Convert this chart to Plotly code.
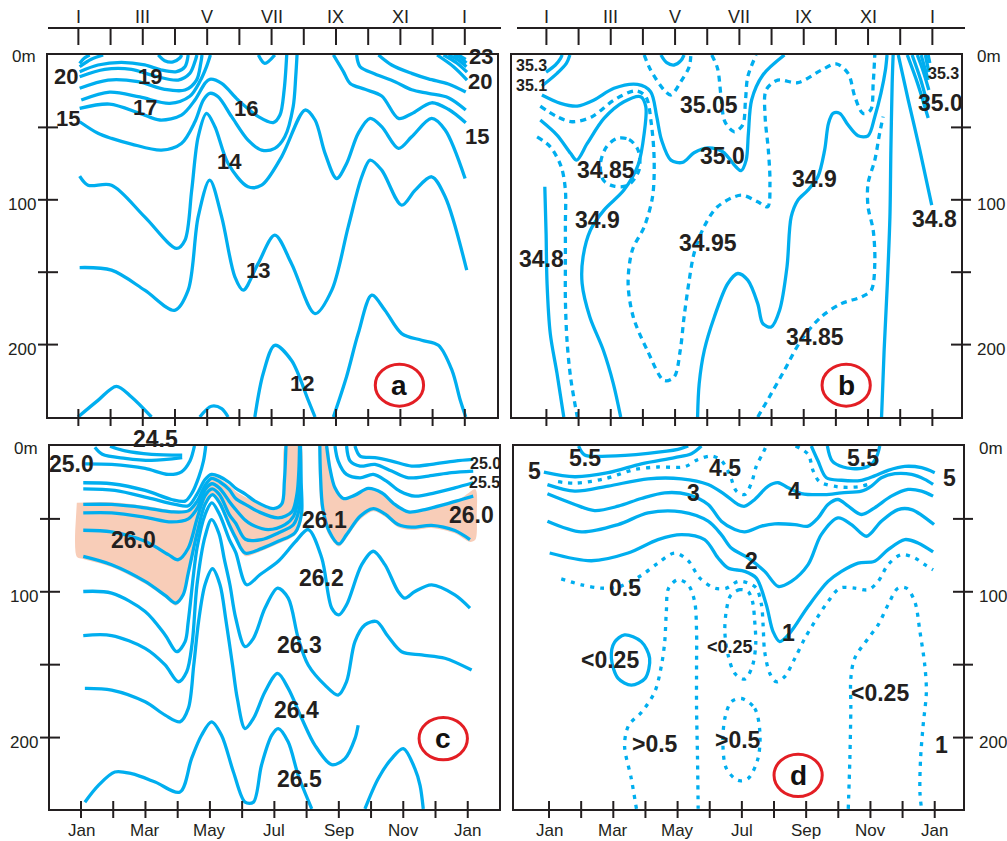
import plotly.graph_objects as go

W, H = 1007, 841
CYAN = "#00AEEF"
INK = "#231F20"
RED = "#E31E24"
PEACH = "#F8CDB8"
SANS = "Liberation Sans, Arial, sans-serif"

# ---------------- (a) temperature isolines: (month, depth m) ----------------
TEMP_LINES = [
    ([1.04, 1.18, 1.35], [5.8, 2.3, 0]),
    ([1.04, 1.40, 1.77], [8.1, 3.0, 0]),
    ([1.04, 1.61, 2.34, 3.06, 3.58, 4.05, 4.31, 4.41], [11.5, 6.9, 5.1, 6.9, 10.4, 11.5, 8.1, 0]),
    ([3.48, 3.68, 3.94, 4.15, 4.21], [0, 3.9, 4.8, 2.1, 0]),
    ([1.04, 1.82, 2.65, 3.37, 4.10, 4.46, 4.62, 4.68], [15, 9.9, 9.9, 14.5, 17.3, 12.7, 4.6, 0]),
    ([1.04, 1.92, 2.85, 3.68, 4.31, 4.67, 4.80, 4.84], [23, 17.3, 18.4, 23.7, 24.2, 17.3, 5.8, 0]),
    ([1.09, 1.97, 2.91, 3.84, 4.46, 4.78, 4.98, 5.10], [31.1, 25.6, 29.0, 33.4, 28.5, 18, 8, 0]),
    ([1.04, 1.97, 2.91, 3.53, 4.20, 4.62, 4.93, 5.08, 5.45, 5.96, 6.59, 7.05, 7.26, 7.39, 7.47],
     [36.9, 33.9, 40.3, 44.9, 41.5, 31.1, 19.6, 16.8, 19.6, 31.1, 42.6, 46.7, 41.5, 24.2, 0]),
    ([1.04, 1.61, 2.03, 2.65, 3.58, 4.20, 4.62, 4.88, 5.08, 5.34, 5.76, 6.27, 6.69, 7.10, 7.41, 7.67, 7.75, 7.79],
     [46.1, 54.1, 57.6, 61.5, 65.7, 61.1, 46.1, 31.1, 26.5, 28.8, 42.6, 58.8, 65.7, 64.5, 56.5, 35.7, 15.0, 0]),
    ([1.04, 1.30, 2.03, 3.06, 4.05, 4.31, 4.52, 4.72, 4.98, 5.24, 5.65, 6.27, 6.69, 7.31, 8.04, 8.35, 8.66,
      9.02, 9.33, 9.69, 10.06, 10.42, 10.94, 11.35, 11.97, 12.39, 13.01],
     [83.6, 89.9, 89.9, 111.8, 133.6, 127.9, 93.3, 56.5, 40.3, 49.5, 74.9, 91.0, 89.9, 70.3, 38.0, 44.9, 67.9,
      85.3, 74.9, 54.1, 43.8, 49.5, 64.5, 56.5, 43.8, 51.8, 85.3]),
    ([1.04, 2.03, 3.06, 3.99, 4.41, 4.72, 5.08, 5.45, 5.86, 6.12, 6.58, 7.10, 7.62, 8.35, 8.87, 9.38, 9.80,
      10.06, 10.42, 11.04, 11.46, 11.97, 12.39, 13.06],
     [146.8, 148.6, 162.4, 176.3, 162.4, 111.8, 86.4, 111.8, 153.2, 162.4, 144.1, 124.4, 144.1, 178.6, 162.4,
      118.7, 84.1, 72.6, 79.5, 103.7, 93.3, 84.1, 97.9, 148.6]),
    ([6.48, 6.74, 7.10, 7.62, 8.14, 8.35], [250, 220, 200.5, 211, 238.5, 250]),
    ([8.92, 9.33, 9.69, 10.11, 10.52, 11.04, 11.66, 12.18, 12.60, 12.86, 13.03],
     [250, 222, 192.4, 165.9, 176.3, 192.4, 197, 200.5, 217.7, 238.5, 250]),
    ([0.99, 1.61, 2.18, 2.65, 3.27], [250, 238.5, 228.8, 236.2, 250]),
    ([4.77, 5.13, 5.45, 5.65], [250, 242.6, 244.2, 250]),
    ([6.59, 6.79, 7.10], [0, 5.8, 0]),
    ([8.92, 9.23, 9.44, 9.90, 10.42, 10.94, 11.35, 11.97, 12.49, 13.03],
     [0, 11.5, 19.6, 23.7, 28.3, 43.8, 40.5, 33.0, 37.5, 46.8]),
    ([9.64, 9.75, 10.21, 10.83, 11.35, 11.87, 12.49, 13.03], [0, 8.1, 13.1, 18.4, 24.0, 26.5, 29.5, 38.0]),
    ([10.32, 10.73, 11.35, 11.87, 12.49, 13.03], [0, 6.9, 12.7, 16.5, 20.0, 25.6]),
    ([12.14, 12.65, 13.07], [0, 8.1, 17.3]),
    ([12.34, 12.75, 13.07], [0, 5.5, 11.8]),
    ([12.49, 12.80, 13.05], [0, 3.5, 8.1]),
    ([12.65, 12.88, 13.05], [0, 2.3, 5.5]),
    ([12.80, 13.03], [0, 3.0]),
]
TEMP_LABELS = [("20", 0.63, 14.5), ("19", 3.22, 15), ("17", 3.06, 36), ("15", 0.68, 43.8),
               ("16", 6.22, 36.9), ("14", 5.70, 73.7), ("13", 6.59, 148.6), ("12", 7.93, 227),
               ("23", 13.5, 1.0), ("20", 13.48, 18.4), ("15", 13.37, 56.5)]

# ---------------- (b) salinity isolines ----------------
SAL_SOLID = [
    ([0.99, 1.28, 1.44, 1.49], [11.8, 6.9, 2.3, 0]),
    ([0.86, 1.33, 1.62, 1.73], [21.4, 12.7, 5.8, 0]),
    ([0.86, 1.44, 1.96, 2.48, 3.10, 3.83, 4.24, 4.43, 4.58, 4.87, 5.23, 5.59, 6.01, 6.48, 6.89, 7.05, 7.21,
      7.28, 7.38, 7.73, 8.40],
     [27.6, 33.4, 35.3, 31.1, 23.0, 20.3, 25.3, 42.6, 58.8, 72.6, 74.2, 67.5, 64.1, 66.8, 77.2, 79.9, 72.6,
      54.1, 31.1, 13.8, 0]),
    ([0.81, 1.33, 1.75, 1.94, 2.27, 2.79, 3.41, 3.93, 4.09, 4.04, 3.85, 3.41, 2.79, 2.37, 2.14, 2.11, 2.35,
      2.77, 3.08, 3.31],
     [44.9, 55.3, 67.9, 72.6, 61.1, 43.8, 32.3, 28.8, 35.7, 54.1, 76.0, 93.3, 107.1, 120.9, 139.4, 157.8,
      180.9, 203.9, 226.9, 250]),
    ([0.95, 0.99, 1.02, 1.12, 1.33, 1.54], [91, 123.3, 157.8, 192.4, 220, 250]),
    ([5.70, 5.75, 5.91, 6.22, 6.64, 6.95, 7.26, 7.57, 7.73, 7.99, 8.25, 8.48, 8.61, 8.82, 9.13, 9.44, 9.65,
      9.77, 9.91, 10.12, 10.38, 10.69, 11.00, 11.21, 11.40, 11.54, 11.59],
     [250, 226.9, 203.9, 180.9, 157.8, 150.9, 155.5, 171.7, 185.5, 187.8, 176.3, 146.3, 111.8, 100.2, 93.3,
      84.1, 65.7, 47.2, 40.3, 40.3, 48.4, 55.8, 55.8, 42.6, 26.5, 10.4, 0]),
    ([11.42, 11.50, 11.60, 11.68, 11.71, 11.75, 11.78], [250, 203.9, 157.8, 111.8, 65.7, 19.6, 0]),
    ([4.56, 4.74, 4.97, 5.18, 5.28], [0, 5.3, 6.9, 3.9, 0]),
    ([11.94, 12.25, 12.61, 12.98], [0, 31.1, 65.7, 103.7]),
    ([12.22, 12.54, 12.87], [0, 19.6, 43.5]),
    ([12.37, 12.64, 12.87], [0, 17.3, 35.9]),
    ([12.53, 12.72, 12.89], [0, 11.5, 24.2]),
    ([12.65, 12.87], [0, 17.3]),
    ([12.78, 12.89], [0, 11.8]),
    ([12.87, 12.92], [0, 5.5]),
]
SAL_DASHED = [
    ([0.81, 1.33, 1.80, 2.42, 3.10, 3.78, 4.09, 4.26, 4.35, 4.30, 4.04, 3.67, 3.54, 3.70, 4.14, 4.66, 4.97,
      5.16, 5.28, 5.44, 5.59, 5.90, 6.32, 7.05, 7.57, 7.88, 7.95, 7.90, 7.80, 7.83, 8.19, 8.82, 9.55, 10.01,
      10.38, 10.59, 10.84, 11.08, 11.16, 11.21],
     [35.3, 42.6, 46.1, 42.6, 31.1, 24.7, 28.8, 47.2, 72.6, 97.9, 118.7, 134.8, 157.8, 180.9, 204.1, 224.8,
      222.4, 204.1, 180.9, 155.5, 137.1, 118.7, 104.8, 96.8, 101.4, 104.8, 88.7, 65.7, 42.6, 24.2, 17.3,
      19.1, 10.4, 6.2, 12.7, 28.8, 40.3, 38, 19.6, 0]),
    ([3.20, 3.57, 3.85, 3.88, 3.54, 3.10, 2.77, 2.68, 2.87, 3.20],
     [57.6, 58.3, 65.7, 79.5, 89.9, 90.6, 86.4, 74.9, 63.4, 57.6]),
    ([0.71, 1.12, 1.46, 1.59, 1.59, 1.59, 1.59, 1.64, 1.75, 1.96],
     [56.5, 63.4, 77.2, 93.3, 116.4, 143.8, 169.4, 197, 222.4, 250]),
    ([7.57, 7.99, 8.40, 8.92, 9.54, 10.17, 10.79, 11.10, 11.21, 11.16, 11.00, 11.00, 11.21, 11.36, 11.47],
     [250, 233.9, 217.7, 197, 180.9, 171.7, 167.1, 162.4, 144.0, 121, 104.8, 88.7, 72.6, 54.1, 42.6]),
    ([4.04, 4.24, 4.66, 4.87, 5.18, 5.44, 5.49], [0, 10.4, 24.2, 27.6, 18.4, 8.1, 0]),
    ([6.14, 6.32, 6.43, 6.55, 6.84, 7.10, 7.19, 7.26, 7.52], [0, 9.2, 28.8, 46.1, 53, 48.4, 31.1, 15, 0]),
]
SAL_LABELS = [("35.05", 6.06, 34.6), ("34.85", 2.84, 79.5), ("35.0", 6.48, 69.8), ("34.9", 9.34, 85.3),
              ("34.9", 2.58, 114), ("34.95", 6.01, 130), ("34.8", 0.86, 141), ("34.85", 9.34, 194.7),
              ("34.8", 13.08, 113), ("35.0", 13.24, 33.4)]
SAL_SMALL_LABELS = [("35.3", 0.55, 7.2), ("35.1", 0.53, 21.2), ("35.3", 13.36, 12.9)]

# ---------------- (c) density isolines ----------------
DENS_LINES = [
    ([1.43, 1.66, 2.37, 3.19, 4.14], [0.9, 5.7, 8.5, 9.9, 8.0]),
    ([1.90, 2.37, 3.19, 4.14], [0.2, 3.4, 5.7, 6.2]),
    ([1.10, 1.95, 2.99, 3.71, 4.12, 4.38, 4.52], [12.2, 12.6, 15.4, 19.5, 17.7, 10.3, 0]),
    ([1.07, 1.95, 2.99, 3.81, 4.23, 4.45, 4.66, 4.80, 4.87], [25.2, 25.9, 30.5, 36.7, 37.8, 32, 21, 10.3, 0]),
    ([1.07, 2.05, 3.09, 3.92, 4.33, 4.60, 4.85, 5.05, 5.30, 5.60, 5.80, 6.10, 6.40, 6.97, 7.23, 7.31, 7.36],
     [29.4, 30.5, 35.6, 40.1, 41, 33, 23, 19.5, 21, 25, 29, 33, 37.8, 42.9, 39.7, 24.1, 0]),
    ([1.07, 1.95, 2.99, 3.81, 4.33, 4.60, 4.85, 5.05, 5.30, 5.60, 5.80, 6.10, 6.50, 7.12, 7.54, 7.70, 7.76, 7.78],
     [40.1, 40.1, 42.4, 45.2, 44.5, 38, 27, 22.2, 24.5, 30, 36, 40, 45, 49.3, 45.2, 33, 17, 0]),
    ([1.07, 1.95, 2.99, 3.81, 4.33, 4.60, 4.85, 5.06, 5.30, 5.60, 5.80, 6.10, 6.29, 6.81, 7.33, 7.60, 7.74,
      7.79, 7.79],
     [45.9, 45.9, 48.9, 52.1, 50, 43, 30, 25.9, 29, 38, 43.6, 51, 53.9, 57.3, 53.9, 48, 36, 17, 0]),
    ([1.07, 1.95, 2.99, 3.71, 4.02, 4.33, 4.60, 4.85, 5.07, 5.30, 5.60, 5.80, 6.10, 6.60, 7.12, 7.59, 7.78,
      7.81, 7.80],
     [57.8, 58.9, 65.4, 74.5, 78.0, 70, 50, 34, 29.4, 33.5, 47, 53, 64, 64.2, 59.6, 54, 42, 20, 0]),
    ([1.07, 1.95, 2.99, 3.61, 3.94, 4.17, 4.33, 4.60, 4.85, 5.08, 5.30, 5.60, 5.80, 6.09, 6.60, 7.12, 7.64,
      7.84, 7.83, 7.81],
     [75.7, 81.4, 92.9, 102.5, 107.8, 102.1, 87, 60, 40, 33.3, 39, 54, 63, 73.4, 70.4, 65.4, 59.5, 47,
      24, 0]),
    ([1.07, 1.95, 2.99, 3.61, 3.97, 4.23, 4.33, 4.60, 4.85, 5.06, 5.30, 5.60, 5.80, 6.14, 6.55, 7.12, 7.64,
      8.05, 8.47, 8.78, 9.00, 9.24, 9.71, 10.07, 10.43, 10.84, 11.05, 11.36, 11.88, 12.60, 13.07],
     [99.8, 100.9, 113.5, 129.6, 141.1, 134.2, 120, 70, 47, 39, 47, 64, 73, 95.2, 88.3, 79.1, 66, 57.3,
      76.8, 111.2, 115.8, 108.9, 81.4, 72.2, 81.4, 99.8, 104.4, 99.8, 95.2, 102.1, 111.2]),
    ([1.07, 1.95, 2.99, 3.61, 4.02, 4.28, 4.45, 4.60, 4.85, 5.05, 5.28, 5.45, 5.62, 5.80, 6.09, 6.35, 6.71,
      7.10, 7.43, 7.74, 8.05, 8.57, 8.98, 9.24, 9.50, 9.81, 10.17, 10.53, 10.95, 11.57, 12.29, 13.12],
     [130.0, 130.0, 138.8, 150.2, 161.7, 154.8, 135, 95, 62, 50.5, 60, 78, 95.2, 118, 137.6, 131.9, 111.2,
      97.5, 104.4, 131.9, 150.2, 164.0, 170.9, 161.7, 134.2, 122.7, 120.4, 130.7, 141.1, 143.3, 145.6, 153.7]),
    ([1.12, 1.95, 2.99, 3.61, 4.07, 4.33, 4.50, 4.65, 4.85, 5.08, 5.31, 5.50, 5.70, 5.85, 6.09, 6.35, 6.71,
      7.10, 7.43, 7.85, 8.26, 8.78, 9.19, 9.50, 9.60],
     [166.3, 167.4, 175.5, 184.6, 189.2, 180, 150, 120, 95, 84.2, 95, 120, 150, 173.2, 193.8, 186.9, 168.6,
      156.0, 166.3, 186.9, 205.3, 218.6, 214.4, 200.7, 191.5]),
    ([1.12, 1.54, 2.05, 2.57, 3.30, 4.07, 4.43, 4.74, 5.05, 5.36, 5.73, 6.09, 6.35, 6.60, 6.92, 7.12, 7.43,
      7.74, 8.16],
     [244.3, 232.8, 223.6, 224.8, 230.5, 237.4, 214.4, 198.4, 189.2, 198.4, 223.6, 244.3, 244.3, 219.0,
      198.4, 193.8, 203.0, 225.9, 248.9]),
    ([9.81, 10.22, 10.64, 11.00, 11.36, 11.52, 11.62], [248.9, 228.2, 214.4, 207.6, 221.3, 232.8, 248.9]),
    ([8.41, 8.43, 8.50, 8.70, 9.00, 9.24, 9.66, 10.07, 10.43, 10.84, 11.26, 11.88, 12.60, 13.07],
     [0, 19.5, 42.4, 58.5, 67.2, 60.8, 48.2, 42.9, 46.6, 53.9, 55.7, 54.4, 58.0, 64.2]),
    ([8.62, 8.72, 8.88, 9.14, 9.50, 9.91, 10.33, 10.74, 11.16, 11.67, 12.29, 12.81, 13.17],
     [0, 14.9, 28.7, 36.0, 33.7, 29.1, 32.1, 40.1, 45.2, 43.6, 40.1, 36.7, 34.4]),
    ([8.88, 8.98, 9.24, 9.66, 10.07, 10.48, 10.90, 11.36, 11.98, 12.60, 13.17],
     [0, 10.3, 19.5, 21.8, 19.5, 24.1, 31.0, 34.4, 32.1, 28.7, 25.2]),
    ([9.24, 9.35, 9.66, 10.12, 10.64, 11.16, 11.78, 12.50, 13.17], [0, 10.3, 13.8, 12.6, 17.2, 21.8, 20.6, 18.3, 17.2]),
    ([9.50, 9.66, 10.12, 10.64, 11.26, 11.88, 12.60, 13.17], [0, 6.9, 8.0, 10.3, 13.8, 12.6, 10.3, 9.2]),
]
DENS_BANDS = [
    ([0.87, 1.95, 2.99, 3.81, 4.33, 4.60, 4.85, 5.05, 5.30, 5.60, 5.80, 6.10, 6.40, 6.97, 7.22, 7.30, 7.33,
      7.82, 7.85, 7.87, 7.65, 7.12, 6.60, 6.09, 5.80, 5.60, 5.30, 5.08, 4.85, 4.60, 4.33, 4.17, 3.94,
      3.61, 2.99, 1.95, 1.07, 0.87, 0.82],
     [39, 38.5, 41, 44, 43.5, 36.5, 25.5, 20.5, 22.5, 27, 31, 35, 38.5, 44, 40, 24, 0,
      0, 24, 47, 61, 67, 72, 75.5, 64, 55, 40, 34.5, 41, 61, 88, 103, 109.5,
      104, 94.5, 83, 77.5, 76, 58]),
    ([8.38, 8.65, 8.76, 8.90, 9.14, 9.50, 9.91, 10.33, 10.74, 11.16, 11.67, 12.29, 12.81, 13.24, 13.28,
      13.24, 13.07, 12.60, 11.88, 11.26, 10.84, 10.43, 10.07, 9.66, 9.24, 9.00, 8.67, 8.45, 8.38],
     [0, 0, 14.9, 28.7, 36.0, 33.7, 29.1, 32.1, 39.7, 44.7, 42.9, 39.2, 35.6, 29.8, 47.0,
      64.2, 65.8, 59.9, 56.2, 57.6, 55.7, 48.4, 44.7, 50.5, 63.1, 69.0, 60.3, 43.6, 19.5]),
]
DENS_LABELS = [("25.0", 0.71, 12.6), ("26.0", 2.62, 64.2), ("26.1", 8.57, 50.5), ("26.2", 8.47, 90.6),
               ("26.3", 7.79, 136.5), ("26.4", 7.69, 181.2), ("26.5", 7.79, 228.2), ("26.0", 13.12, 47.0)]
DENS_SMALL_LABELS = [("25.0", 13.55, 12.0), ("25.5", 13.52, 25.0)]

# ---------------- (d) oxygen isolines ----------------
OXY_SOLID = [
    ([1.92, 2.11, 2.84, 4.08, 5.01, 5.33], [0, 6.2, 6.9, 5.0, 2.3, 0]),
    ([0.84, 1.80, 2.84, 3.87, 4.91, 5.43, 5.74], [17.9, 21.1, 18.3, 12.2, 8.0, 5.3, 0]),
    ([0.95, 1.80, 2.84, 4.08, 5.12, 5.95, 6.47, 6.88, 7.09, 7.40, 7.82, 8.13, 8.44, 8.85, 9.58, 10.10,
      10.72, 11.03, 11.34, 11.76, 12.28, 12.69, 12.95],
     [26.5, 31, 27.5, 22.5, 22.5, 26.4, 33.3, 40.1, 41.3, 36.7, 27.5, 25.2, 28.7, 32.6, 33.3, 32.1,
      31.0, 27.5, 21.8, 19.0, 19.5, 22.9, 26.4]),
    ([0.95, 1.80, 2.42, 3.15, 3.87, 4.60, 5.33, 5.95, 6.36, 6.78, 7.09, 7.61, 8.02, 8.65, 9.06, 9.37, 9.68,
      9.99, 10.31, 10.72, 11.13, 11.65, 12.17, 12.59, 12.95],
     [32.8, 40.1, 44.3, 41.3, 36.0, 32.1, 33.3, 40.1, 51.6, 57.3, 58.9, 55.0, 53.4, 53.9, 55.0, 49.3, 40.1,
      36.7, 41.3, 47.0, 42.4, 34.4, 29.8, 30.9, 34.4]),
    ([0.95, 2.01, 3.15, 4.08, 5.12, 5.95, 6.36, 6.67, 7.19, 7.71, 8.13, 8.54, 9.06, 9.47, 9.99, 10.41, 10.88,
      11.34, 11.86, 12.28, 12.98],
     [51.6, 58.9, 53.9, 45.9, 45.2, 51.6, 60.8, 70.0, 76.8, 86.0, 96.3, 92.9, 81.4, 60.8, 49.3, 53.9, 61.9,
      51.6, 43.6, 43.6, 53.9]),
    ([1.02, 2.32, 3.46, 4.39, 5.12, 5.84, 6.26, 6.57, 7.09, 7.45, 7.76, 7.97, 8.18, 8.49, 9.06, 9.68, 10.10,
      10.62, 11.13, 11.55, 12.07, 12.48, 12.95],
     [73.4, 78.7, 73.4, 64.2, 60.8, 64.2, 76.8, 83.7, 86.0, 90.6, 108.9, 127.3, 134.2, 128.4, 110.1, 92.9,
      86.0, 80.3, 79.1, 71.1, 64.2, 66.5, 72.7]),
    ([9.66, 9.81, 10.15, 10.72, 11.05, 11.22, 11.29], [0, 10.3, 14.4, 15.4, 12.2, 5.7, 0]),
    ([9.16, 9.37, 9.63, 10.10, 10.72, 11.13, 11.55, 12.07, 12.59, 13.00],
     [0, 10.3, 21.8, 23.5, 23.5, 20.5, 16.7, 14.0, 14.9, 18.3]),
    ([3.35, 3.87, 4.13, 3.99, 3.56, 3.15, 2.94, 3.04, 3.35], [129.6, 134.2, 145.6, 159.4, 164.0, 159.4, 145.6, 134.6, 129.6]),
]
OXY_DASHED = [
    ([1.28, 1.80, 2.73, 3.67, 4.39, 5.22, 5.64, 6.05, 6.36, 6.62, 6.83, 7.09, 7.30, 7.45, 7.66, 7.76],
     [24.5, 25.5, 22.5, 16.1, 14.4, 14.2, 9.2, 6.9, 9.9, 19.5, 31.0, 33.3, 25.2, 13.8, 4.6, 0]),
    ([8.67, 9.06, 9.22, 9.42, 9.99, 10.62, 10.90], [0, 5.7, 17.2, 24.5, 28, 28, 26.5]),
    ([1.38, 2.01, 2.63, 3.15, 3.87, 4.39, 4.91, 5.33, 5.69, 6.16, 6.52, 6.88, 7.19, 7.45, 7.61, 7.66, 7.71,
      7.87, 8.07, 8.33, 8.65, 8.96, 9.27, 9.68, 10.05, 10.51, 10.93, 11.24, 11.55, 11.96, 12.38, 12.69, 12.95],
     [91.1, 95.2, 97.5, 96.8, 88.8, 80.3, 73.4, 78.7, 90.6, 97.5, 97.5, 92.9, 94.0, 97.5, 108.9, 122.7,
      141.1, 156.0, 161.7, 158.3, 145.6, 131.9, 120.4, 106.7, 97.5, 97.5, 98.6, 92.9, 81.4, 74.5, 76.8,
      81.4, 84.9]),
    ([7.19, 6.93, 6.65, 6.52, 6.47, 6.57, 6.78, 7.09, 7.32, 7.43, 7.40, 7.33, 7.19],
     [99.8, 98.6, 102.5, 112.4, 127.3, 143.3, 156.0, 159.9, 151.4, 136.5, 120.4, 106.7, 99.8]),
    ([3.72, 3.56, 3.35, 3.48, 3.87, 4.29, 4.50, 4.60, 4.65, 4.72, 5.01, 5.33, 5.53, 5.59, 5.59, 5.59, 5.62, 5.64],
     [248.9, 228.2, 205.3, 191.5, 182.8, 168.6, 150.2, 134.2, 113.5, 97.5, 91.7, 95.2, 106.7, 127.3, 150.2,
      180.0, 214.4, 248.9]),
    ([6.99, 7.40, 7.56, 7.50, 7.19, 6.88, 6.52, 6.41, 6.47, 6.67, 6.99],
     [173.2, 180.0, 196.1, 214.4, 228.2, 229.4, 221.3, 205.3, 186.9, 175.5, 173.2]),
    ([10.31, 10.36, 10.39, 10.39, 10.51, 10.93, 11.24, 11.55, 11.86, 12.12, 12.38, 12.54, 12.69, 12.74,
      12.64, 12.56, 12.54, 12.59],
     [248.9, 214.4, 180.0, 159.4, 145.6, 131.9, 122.7, 108.9, 97.5, 97.5, 106.7, 127.3, 150.2, 168.6,
      191.5, 214.4, 237.4, 248.9]),
]
OXY_LABELS = [("5.5", 2.11, 8.0), ("5", 0.55, 17.2), ("4.5", 6.47, 14.9), ("3", 5.48, 32.1), ("4", 8.65, 31.0),
              ("5.5", 10.77, 8.0), ("5", 13.47, 21.8), ("2", 7.30, 79.1), ("0.5", 3.35, 97.5),
              ("1", 8.44, 128.4), ("<0.25", 2.89, 146.8), ("<0.25", 11.29, 169.7), (">0.5", 4.29, 204.1),
              (">0.5", 6.88, 201.8), ("1", 13.21, 205.3)]
OXY_SMALL_LABELS = [("<0.25", 6.62, 137.6)]

# panel letters: (month, depth) of the circled tag
PANEL_TAGS = {"a": (10.97, 228), "b": (10.32, 228), "c": (12.24, 200.7), "d": (8.75, 225.9)}

MONTH_TICKS = list(range(1, 14))
MONTH_NAMES = [(1, "Jan"), (3, "Mar"), (5, "May"), (7, "Jul"), (9, "Sep"), (11, "Nov"), (13, "Jan")]
ROMAN_NAMES = [(1, "I"), (3, "III"), (5, "V"), (7, "VII"), (9, "IX"), (11, "XI"), (13, "I")]
DEPTH_TICKS = [50, 100, 150, 200]
DEPTH_NAMES = [(0, "0m"), (100, "100"), (200, "200")]

# ---------------- layout geometry (pixels) ----------------
PANELS = {
    "a": dict(n="", box=(48, 55, 497, 417), xr=(0.057, 14.0), yr=(250, 0), side="left"),
    "b": dict(n="2", box=(512, 55, 961, 417), xr=(-0.07, 13.89), yr=(250, 0), side="right"),
    "c": dict(n="3", box=(50, 446, 499, 809), xr=(0.038, 13.97), yr=(249, 0), side="left"),
    "d": dict(n="4", box=(514, 446, 963, 809), xr=(-0.09, 13.88), yr=(249, 0), side="right"),
}


def px(xp):
    return xp / W


def py(yp):
    return 1 - yp / H


fig = go.Figure()
layout = dict(width=W, height=H, margin=dict(l=0, r=0, t=0, b=0), paper_bgcolor="white",
              plot_bgcolor="white", showlegend=False)
shapes, annos = [], []

for key, p in PANELS.items():
    l, t, r, b = p["box"]
    n = p["n"]
    layout["xaxis" + n] = dict(domain=[px(l), px(r)], range=list(p["xr"]), anchor="y" + n,
                               showgrid=False, zeroline=False, showticklabels=False, ticks="",
                               showline=True, mirror=True, linecolor=INK, linewidth=2, fixedrange=True)
    layout["yaxis" + n] = dict(domain=[py(b), py(t)], range=list(p["yr"]), anchor="x" + n,
                               showgrid=False, zeroline=False, showticklabels=False, ticks="",
                               showline=True, mirror=True, linecolor=INK, linewidth=2, fixedrange=True)
    xa, ya = "x" + n, "y" + n
    # month ticks crossing the bottom frame
    for m in MONTH_TICKS:
        shapes.append(dict(type="line", xref=xa, yref="paper", x0=m, x1=m, y0=py(b - 8), y1=py(b + 9),
                           line=dict(color=INK, width=2)))
    # depth ticks crossing the outer frame
    edge = l if p["side"] == "left" else r
    for dval in DEPTH_TICKS:
        shapes.append(dict(type="line", xref="paper", yref=ya, x0=px(edge - 10), x1=px(edge + 10),
                           y0=dval, y1=dval, line=dict(color=INK, width=2)))
    ydepth = (b - t) / (p["yr"][0] - p["yr"][1])
    for dval, txt in DEPTH_NAMES:
        ypix = t + dval * ydepth + (2 if dval == 0 else 5)
        if p["side"] == "left":
            annos.append(dict(text=txt, xref="paper", yref="paper", x=px(edge - 10), y=py(ypix),
                              xanchor="right", yanchor="middle", showarrow=False,
                              font=dict(family=SANS, size=17, color=INK)))
        else:
            annos.append(dict(text=txt, xref="paper", yref="paper", x=px(edge + 14), y=py(ypix),
                              xanchor="left", yanchor="middle", showarrow=False,
                              font=dict(family=SANS, size=17, color=INK)))
    # month names under the lower panels
    if key in ("c", "d"):
        for m, txt in MONTH_NAMES:
            annos.append(dict(text=txt, xref=xa, yref="paper", x=m, y=py(830), xanchor="center",
                              yanchor="middle", showarrow=False, font=dict(family=SANS, size=17, color=INK)))
    # roman month axis above the upper panels
    else:
        top_left = l if key == "a" else l + 5
        shapes.append(dict(type="line", xref="paper", yref="paper", x0=px(top_left), x1=px(r + 4),
                           y0=py(28), y1=py(28), line=dict(color=INK, width=2)))
        for m in MONTH_TICKS:
            shapes.append(dict(type="line", xref=xa, yref="paper", x0=m, x1=m, y0=py(28), y1=py(45),
                               line=dict(color=INK, width=2)))
        for m, txt in ROMAN_NAMES:
            annos.append(dict(text=txt, xref=xa, yref="paper", x=m, y=py(17), xanchor="center",
                              yanchor="middle", showarrow=False, font=dict(family=SANS, size=18, color=INK)))
    # circled panel letter
    cm, cd = PANEL_TAGS[key]
    shapes.append(dict(type="circle", xref=xa, yref=ya, x0=cm - 0.75, x1=cm + 0.75, y0=cd - 14.5,
                       y1=cd + 14.5, line=dict(color=RED, width=3)))
    annos.append(dict(text="<b>%s</b>" % key, xref=xa, yref=ya, x=cm, y=cd, xanchor="center",
                      yanchor="middle", showarrow=False, font=dict(family=SANS, size=28, color="#111")))


def add_lines(lines, n, dash="solid"):
    for months, depths in lines:
        fig.add_trace(go.Scatter(x=months, y=depths, mode="lines", xaxis="x" + n, yaxis="y" + n,
                                 line=dict(color=CYAN, width=3.3, shape="spline", smoothing=0.9, dash=dash),
                                 hoverinfo="skip", showlegend=False))


def add_labels(labels, n, size, pad=1):
    for txt, m, dval in labels:
        annos.append(dict(text="<b>%s</b>" % txt.replace("<", "&lt;").replace(">", "&gt;"),
                          xref="x" + n, yref="y" + n, x=m, y=dval, xanchor="center", yanchor="middle",
                          showarrow=False, borderpad=pad, font=dict(family=SANS, size=size, color=INK)))


for months, depths in DENS_BANDS:
    fig.add_trace(go.Scatter(x=months, y=depths, mode="lines", xaxis="x3", yaxis="y3", fill="toself",
                             fillcolor=PEACH, line=dict(width=0, color=PEACH, shape="spline", smoothing=0.8),
                             hoverinfo="skip", showlegend=False))

add_lines(TEMP_LINES, "")
add_lines(SAL_SOLID, "2")
add_lines(SAL_DASHED, "2", dash="6px,5px")
add_lines(DENS_LINES, "3")
add_lines(OXY_SOLID, "4")
add_lines(OXY_DASHED, "4", dash="4px,6px")

add_labels(TEMP_LABELS, "", 22)
add_labels(SAL_LABELS, "2", 23)
add_labels(SAL_SMALL_LABELS, "2", 16, pad=0)
add_labels(DENS_LABELS, "3", 23)
add_labels(DENS_SMALL_LABELS, "3", 16, pad=0)
add_labels(OXY_LABELS, "4", 23)
add_labels(OXY_SMALL_LABELS, "4", 18)

# 24.5 sits on the upper frame of the density panel
annos.append(dict(text="<b>24.5</b>", xref="paper", yref="paper", x=px(155), y=py(439), xanchor="center",
                  yanchor="middle", showarrow=False, font=dict(family=SANS, size=23, color=INK)))

layout["shapes"] = shapes
layout["annotations"] = annos
fig.update_layout(**layout)
fig.write_html("out.html")
